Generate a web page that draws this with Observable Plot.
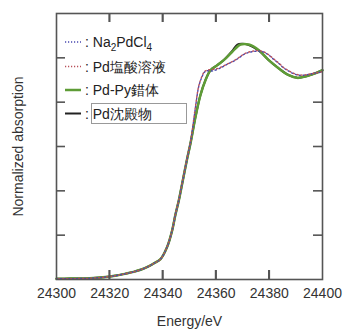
<!DOCTYPE html>
<html>
<head>
<meta charset="utf-8">
<script src="https://cdn.jsdelivr.net/npm/d3@7"></script>
<script src="https://cdn.jsdelivr.net/npm/@observablehq/plot@0.6"></script>
<style>
  html, body { margin: 0; padding: 0; background: #fff; }
  svg { display: block; }
</style>
</head>
<body>
<script>
// ---- Data ----
const xTicks = [24300, 24320, 24340, 24360, 24380, 24400];
const xInnerTicks = [24320, 24340, 24360, 24380];
const yInnerTicks = [0.25, 0.5, 0.75, 1.0, 1.25];

const seriesNames = ["Na2PdCl4", "Pd塩酸溶液", "Pd-Py錯体", "Pd沈殿物"];

// Pd-Py錯体 (green)
const energyPy = [24300, 24305, 24311, 24316.5, 24322, 24326, 24329, 24331.6, 24334.2, 24336.5, 24339.1, 24341.6, 24343.5, 24344.7, 24346, 24347.5, 24349.1, 24350.4, 24352.3, 24354.1, 24356, 24357.9, 24360.4, 24362.9, 24366, 24369.2, 24372.3, 24376.1, 24379.8, 24383.6, 24387.3, 24390.5, 24394.2, 24398, 24400];
const absPy    = [0.004, 0.005, 0.006, 0.011, 0.021, 0.033, 0.043, 0.055, 0.071, 0.09, 0.115, 0.184, 0.278, 0.365, 0.447, 0.56, 0.68, 0.77, 0.92, 1.039, 1.124, 1.18, 1.208, 1.237, 1.283, 1.325, 1.325, 1.293, 1.237, 1.19, 1.152, 1.137, 1.148, 1.167, 1.18];

// Pd沈殿物 (black)
const energyPpt = [24300, 24305, 24311, 24316.5, 24322, 24326, 24329, 24331.6, 24334.2, 24336.5, 24339.1, 24341.6, 24343.5, 24344.7, 24346, 24347.5, 24349.1, 24350.4, 24352.3, 24354.1, 24356, 24357.9, 24360.4, 24362.9, 24366, 24368, 24370, 24372.3, 24376.1, 24379.8, 24383.6, 24387.3, 24390.5, 24394.2, 24398, 24400];
const absPpt    = [0.004, 0.005, 0.006, 0.011, 0.021, 0.033, 0.043, 0.055, 0.071, 0.09, 0.115, 0.184, 0.278, 0.365, 0.447, 0.56, 0.68, 0.77, 0.92, 1.039, 1.124, 1.18, 1.208, 1.238, 1.288, 1.325, 1.329, 1.322, 1.29, 1.236, 1.19, 1.152, 1.137, 1.148, 1.167, 1.18];

// Na2PdCl4 (blue dotted)
const energyNa = [24300, 24305, 24311, 24316.5, 24322, 24326, 24329, 24331.6, 24334.2, 24336.5, 24339.1, 24341.6, 24343.5, 24344.7, 24346, 24347.5, 24349.1, 24350.4, 24351.0, 24352.3, 24353.5, 24354.8, 24355.6, 24356.7, 24358.5, 24361, 24363.5, 24367.3, 24371.1, 24374.8, 24377.4, 24379.8, 24381.6, 24383.6, 24385.3, 24387.3, 24389.1, 24391.1, 24392.9, 24394.8, 24397, 24400];
const absNa    = [0.004, 0.005, 0.006, 0.011, 0.021, 0.033, 0.043, 0.055, 0.071, 0.09, 0.115, 0.184, 0.278, 0.365, 0.447, 0.56, 0.68, 0.774, 0.832, 0.977, 1.09, 1.146, 1.169, 1.177, 1.176, 1.188, 1.208, 1.237, 1.274, 1.287, 1.285, 1.265, 1.242, 1.218, 1.194, 1.175, 1.161, 1.152, 1.152, 1.156, 1.163, 1.171];

// Pd塩酸溶液 (red dotted)
const energyHCl = [24300, 24305, 24311, 24316.5, 24322, 24326, 24329, 24331.6, 24334.2, 24336.5, 24339.1, 24341.6, 24343.5, 24344.7, 24346, 24347.5, 24349.1, 24350.4, 24351.0, 24352.3, 24353.5, 24354.8, 24355.6, 24356.7, 24358.5, 24361, 24363.5, 24367.3, 24371.1, 24374.8, 24377.4, 24379.8, 24381.6, 24383.6, 24385.3, 24387.3, 24389.1, 24391.1, 24392.9, 24394.8, 24397, 24400];
const absHCl    = [0.004, 0.005, 0.006, 0.011, 0.021, 0.033, 0.043, 0.055, 0.071, 0.09, 0.115, 0.186, 0.28, 0.368, 0.45, 0.565, 0.685, 0.78, 0.838, 0.982, 1.093, 1.15, 1.172, 1.181, 1.184, 1.192, 1.21, 1.239, 1.276, 1.29, 1.287, 1.267, 1.244, 1.22, 1.196, 1.177, 1.163, 1.154, 1.153, 1.157, 1.164, 1.172];

const toRows = (xs, ys) => xs.map((x, i) => ({x, y: ys[i]}));
const rowsNa = toRows(energyNa, absNa);
const rowsHCl = toRows(energyHCl, absHCl);
const rowsPy = toRows(energyPy, absPy);
const rowsPpt = toRows(energyPpt, absPpt);

const W = 343, H = 329, mL = 56, mR = 21, mT = 13, mB = 50;
const innerH = H - mT - mB;
const innerW = W - mL - mR;
const tickLen = 9;
const frameColor = "#555";
const blue = "#4a4ab0", red = "#b8505a", green = "#5e9c36", black = "#222";

const plot = Plot.plot({
  width: W, height: H,
  marginLeft: mL, marginRight: mR, marginTop: mT, marginBottom: mB,
  style: {fontFamily: "'Liberation Sans', Arial, sans-serif", fontSize: "14px", color: "#333", background: "#fff"},
  x: {domain: [24300, 24400]},
  y: {domain: [0, 1.5]},
  marks: [
    Plot.axisX({ticks: xTicks, tickSize: 0, tickPadding: 9, tickFormat: d => String(d),
      label: "Energy/eV", labelAnchor: "center", labelArrow: "none", labelOffset: 46, fontSize: 14}),
    Plot.axisY({ticks: [], tickSize: 0, label: "Normalized absorption", labelAnchor: "center",
      labelArrow: "none", labelOffset: 43, fontSize: 14}),
    Plot.line(rowsPpt, {x: "x", y: "y", stroke: black, strokeWidth: 2, curve: "catmull-rom"}),
    Plot.line(rowsPy, {x: "x", y: "y", stroke: green, strokeWidth: 2.5, curve: "catmull-rom"}),
    Plot.line(rowsNa, {x: "x", y: "y", stroke: blue, strokeWidth: 1.4, strokeDasharray: "1.2,2.8", curve: "catmull-rom"}),
    Plot.line(rowsHCl, {x: "x", y: "y", stroke: red, strokeWidth: 1.4, strokeDasharray: "1.2,2.8", strokeDashoffset: 2, curve: "catmull-rom"}),
    Plot.ruleX(xInnerTicks, {x: d => d, insetTop: innerH - tickLen, stroke: frameColor, strokeWidth: 1.6}),
    Plot.ruleX(xInnerTicks, {x: d => d, insetBottom: innerH - tickLen, stroke: frameColor, strokeWidth: 1.6}),
    Plot.ruleY(yInnerTicks, {y: d => d, insetRight: innerW - tickLen, stroke: frameColor, strokeWidth: 1.6}),
    Plot.ruleY(yInnerTicks, {y: d => d, insetLeft: innerW - tickLen, stroke: frameColor, strokeWidth: 1.6}),
    Plot.frame({stroke: frameColor, strokeWidth: 1.6})
  ]
});
document.body.appendChild(plot);

const svg = d3.select(plot);

// Inner x ticks (top and bottom), placed through Plot's own x scale
const xs = plot.scale("x");
const tg = svg.append("g").attr("stroke", frameColor).attr("stroke-width", 1.6);
xInnerTicks.forEach(v => {
  const px = xs.apply(v);
  tg.append("line").attr("x1", px).attr("x2", px).attr("y1", H - mB - tickLen).attr("y2", H - mB);
  tg.append("line").attr("x1", px).attr("x2", px).attr("y1", mT).attr("y2", mT + tickLen);
});

// ---- Legend (inside the plot area, top-left) ----
const lg = svg.append("g")
  .attr("font-family", "'Liberation Sans', Arial, sans-serif")
  .attr("font-size", 14)
  .attr("text-anchor", "start")
  .attr("fill", "#222");
const legendItems = [
  {name: seriesNames[0], stroke: blue, width: 1.4, dash: "1.2,1.8", y: 42},
  {name: seriesNames[1], stroke: red, width: 1.4, dash: "1.2,1.8", y: 66.5},
  {name: seriesNames[2], stroke: green, width: 2.5, dash: null, y: 90},
  {name: seriesNames[3], stroke: black, width: 2, dash: null, y: 113.5}
];
legendItems.forEach((it, i) => {
  const ln = lg.append("line")
    .attr("x1", 65).attr("x2", 81).attr("y1", it.y).attr("y2", it.y)
    .attr("stroke", it.stroke).attr("stroke-width", it.width);
  if (it.dash) ln.attr("stroke-dasharray", it.dash);
  if (i === 3) {
    lg.append("rect").attr("x", 91.5).attr("y", 103.5).attr("width", 95).attr("height", 20)
      .attr("fill", "#fff").attr("stroke", "#999").attr("stroke-width", 1);
  }
  const t = lg.append("text").attr("x", 85).attr("y", it.y).attr("dy", "0.36em");
  if (i === 0) {
    t.append("tspan").text(": Na");
    t.append("tspan").attr("font-size", 10).attr("dy", 4).text("2");
    t.append("tspan").attr("dy", -4).text("PdCl");
    t.append("tspan").attr("font-size", 10).attr("dy", 4).text("4");
  } else {
    t.text(": " + it.name);
  }
});
</script>
</body>
</html>
